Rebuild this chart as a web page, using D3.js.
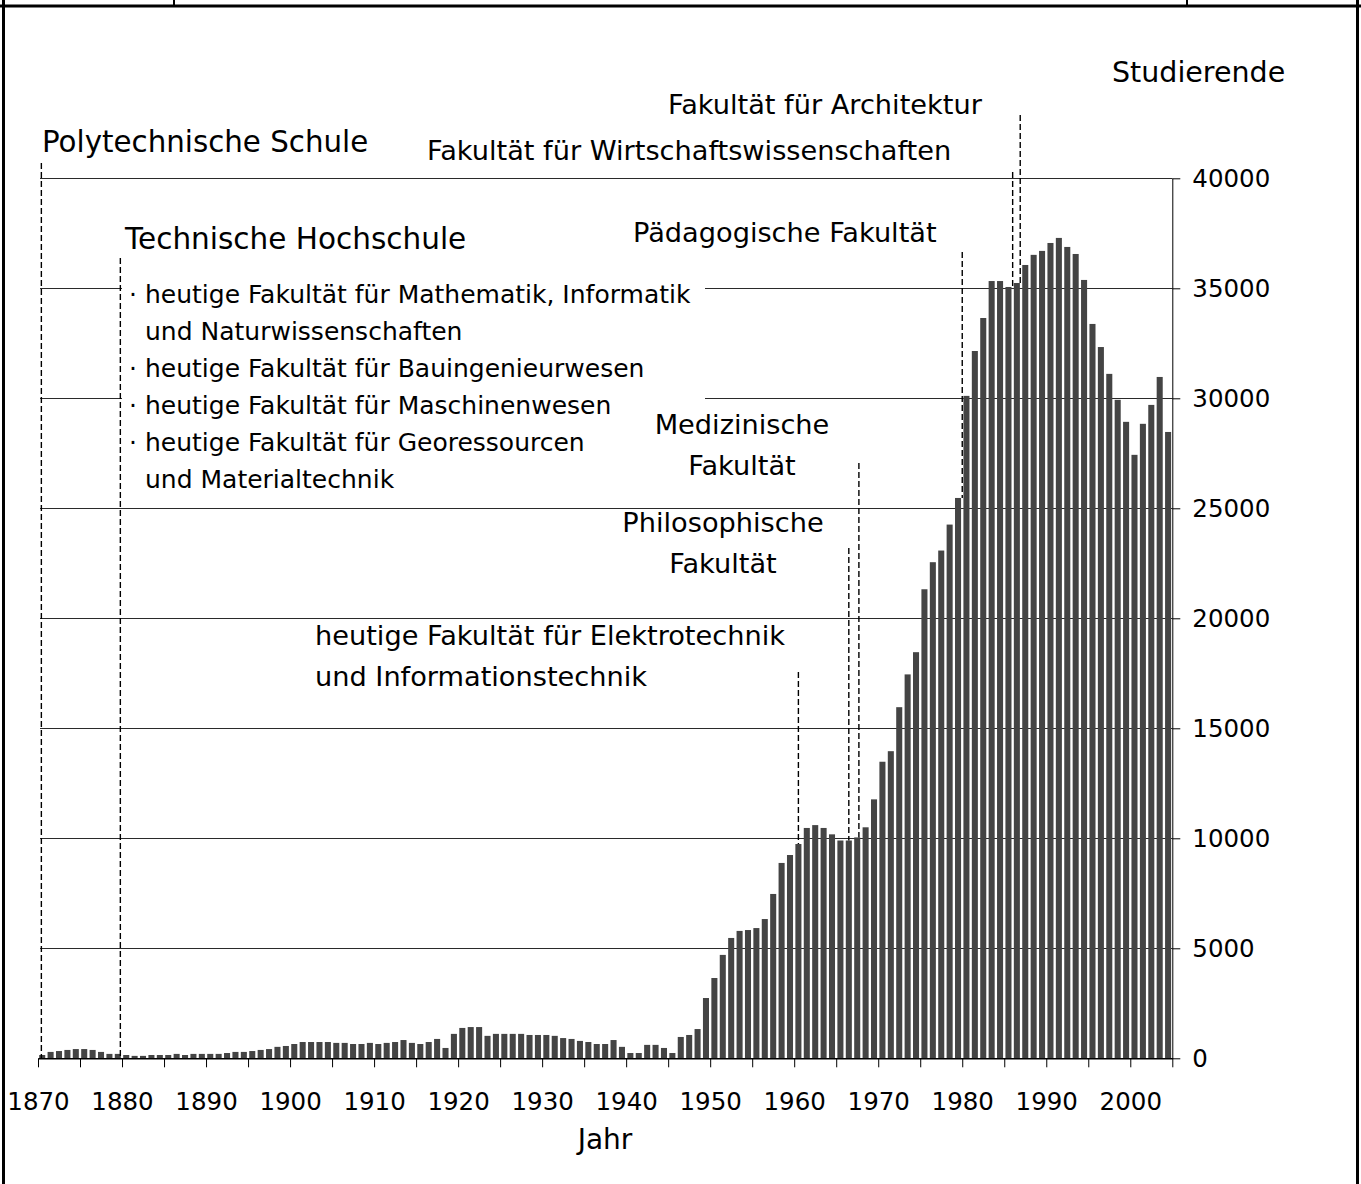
<!DOCTYPE html>
<html>
<head>
<meta charset="utf-8">
<script src="https://cdn.jsdelivr.net/npm/d3@7"></script>
<style>
body { margin: 0; background: #fff; }
svg { display: block; font-family: "DejaVu Sans", sans-serif; }
</style>
</head>
<body>
<svg width="1361" height="1184"></svg>
<script>
// Studierende pro Jahr, 1870 - 2004
var firstYear = 1870;
var students = [
	150, 290, 330, 380, 420, 420, 380, 290, 200, 200,
	150, 110, 110, 150, 150, 150, 200, 150, 200, 200,
	200, 200, 240, 290, 290, 330, 380, 420, 520, 560,
	650, 740, 740, 740, 740, 700, 700, 650, 650, 700,
	650, 700, 740, 830, 700, 650, 740, 880, 470, 1110,
	1380, 1420, 1420, 1020, 1110, 1110, 1110, 1110, 1060, 1060,
	1060, 1020, 920, 880, 790, 740, 650, 650, 830, 520,
	240, 240, 610, 610, 470, 240, 970, 1060, 1330, 2740,
	3650, 4700, 5470, 5790, 5830, 5920, 6330, 7470, 8880, 9240,
	9740, 10470, 10600, 10470, 10180, 9900, 9900, 10040, 10500, 11770,
	13480, 13960, 15960, 17450, 18460, 21320, 22550, 23080, 24260, 25470,
	30110, 32150, 33650, 35330, 35330, 35060, 35240, 36060, 36520, 36700,
	37060, 37290, 36880, 36560, 35380, 33380, 32330, 31110, 29930, 28930,
	27430, 28840, 29700, 30970, 28470
];
var years = d3.range(firstYear, firstYear + students.length);

var yTickValues = [0, 5000, 10000, 15000, 20000, 25000, 30000, 35000, 40000];
var xTickValues = [1870, 1875, 1880, 1885, 1890, 1895, 1900, 1905, 1910, 1915, 1920, 1925, 1930, 1935,
	1940, 1945, 1950, 1955, 1960, 1965, 1970, 1975, 1980, 1985, 1990, 1995, 2000, 2005];
var xTickLabels = [1870, 1880, 1890, 1900, 1910, 1920, 1930, 1940, 1950, 1960, 1970, 1980, 1990, 2000];

// Gruendungen (Zeitpunkt auf der Jahresachse) und Beschriftung
var foundingYears = [1870.4, 1879.8, 1960.5, 1966.5, 1967.7, 1980.0, 1986.0, 1986.9];
var foundingLabels = [
	["Polytechnische Schule"],
	["Technische Hochschule"],
	["heutige Fakultät für Elektrotechnik", "und Informationstechnik"],
	["Philosophische", "Fakultät"],
	["Medizinische", "Fakultät"],
	["Pädagogische Fakultät"],
	["Fakultät für Wirtschaftswissenschaften"],
	["Fakultät für Architektur"]
];
var thFaculties = [
	["heutige Fakultät für Mathematik, Informatik", "und Naturwissenschaften"],
	["heutige Fakultät für Bauingenieurwesen"],
	["heutige Fakultät für Maschinenwesen"],
	["heutige Fakultät für Georessourcen", "und Materialtechnik"]
];

// layout of the labels (x, anchor, first baseline, font size, top of dashed line)
var labelLayout = [
	{ x: 42, anchor: "start", y: 152, size: 29.3, top: 163 },
	{ x: 125, anchor: "start", y: 249, size: 29.5, top: 258 },
	{ x: 315, anchor: "start", y: 645, size: 27.2, top: 672 },
	{ x: 723, anchor: "middle", y: 532, size: 27.2, top: 548 },
	{ x: 742, anchor: "middle", y: 434, size: 27.2, top: 463 },
	{ x: 633, anchor: "start", y: 242, size: 27.2, top: 252 },
	{ x: 427, anchor: "start", y: 160, size: 27.2, top: 172 },
	{ x: 668, anchor: "start", y: 114, size: 27.2, top: 115 }
];

var svg = d3.select("svg"),
	width = +svg.attr("width"),
	height = +svg.attr("height");

var plotLeft = 38, plotRight = 1172.3, plotTop = 178.3, plotBottom = 1058.3;

var x = d3.scaleLinear()
	.domain([1870, 2005])
	.range([plotLeft, plotRight]);

var xBand = d3.scaleBand()
	.domain(years)
	.range([plotLeft, plotRight])
	.paddingInner(0.28)
	.paddingOuter(0.14);

var y = d3.scaleLinear()
	.domain([0, 40000])
	.range([plotBottom, plotTop]);

// frame
var frame = svg.append("g").attr("stroke", "#000");
frame.append("line").attr("x1", 0).attr("x2", width).attr("y1", 6).attr("y2", 6).attr("stroke-width", 3);
frame.append("line").attr("x1", 3.5).attr("x2", 3.5).attr("y1", 0).attr("y2", height).attr("stroke-width", 3);
frame.append("line").attr("x1", 1357.5).attr("x2", 1357.5).attr("y1", 0).attr("y2", height).attr("stroke-width", 3);
frame.append("line").attr("x1", 174).attr("x2", 174).attr("y1", 0).attr("y2", 6).attr("stroke-width", 2);
frame.append("line").attr("x1", 1187).attr("x2", 1187).attr("y1", 0).attr("y2", 6).attr("stroke-width", 2);

// gridlines
svg.append("g")
	.selectAll("line")
	.data(yTickValues.filter(d => d > 0))
	.enter()
	.append("line")
		.attr("x1", plotLeft + 2)
		.attr("x2", plotRight)
		.attr("y1", d => Math.round(y(d)) + 0.5)
		.attr("y2", d => Math.round(y(d)) + 0.5)
		.attr("stroke", "#2a2a2a")
		.attr("stroke-width", 1.2);

// white box behind the faculty list
svg.append("rect")
	.attr("x", 122)
	.attr("y", 279)
	.attr("width", 583)
	.attr("height", 216)
	.attr("fill", "#fff");

// bars
svg.append("g")
	.selectAll("rect")
	.data(students)
	.enter()
	.append("rect")
		.attr("x", (d, i) => xBand(years[i]))
		.attr("width", xBand.bandwidth())
		.attr("y", d => y(d))
		.attr("height", d => y(0) - y(d))
		.attr("fill", "#444");

// x axis
var xAxis = svg.append("g")
	.attr("transform", "translate(0," + plotBottom + ")")
	.call(d3.axisBottom(x)
		.tickValues(xTickValues)
		.tickSize(9)
		.tickSizeOuter(0)
		.tickPadding(25)
		.tickFormat(d => xTickLabels.indexOf(d) >= 0 ? d : ""));
xAxis.select(".domain").attr("stroke-width", 1.5);
xAxis.selectAll("text")
	.attr("font-size", 24.5)
	.attr("font-family", "DejaVu Sans")
	.attr("fill", "#000");

// y axis on the right
var yAxis = svg.append("g")
	.attr("transform", "translate(" + plotRight + ",0)")
	.call(d3.axisRight(y)
		.tickValues(yTickValues)
		.tickSize(8)
		.tickSizeOuter(0)
		.tickPadding(12)
		.tickFormat(d => d));
yAxis.selectAll("text")
	.attr("font-size", 24.5)
	.attr("font-family", "DejaVu Sans")
	.attr("fill", "#000");

// dashed lines for the foundings
var dashG = svg.append("g");
foundingYears.forEach(function(fy, i) {
	var endValue = fy < 1900 ? 0 : Math.min(students[Math.floor(fy - 0.01) - firstYear], students[Math.floor(fy) - firstYear]);
	dashG.append("line")
		.attr("x1", x(fy))
		.attr("x2", x(fy))
		.attr("y1", labelLayout[i].top)
		.attr("y2", y(endValue))
		.attr("stroke", "#000")
		.attr("stroke-width", 1.4)
		.attr("stroke-dasharray", "6,3");
});

// founding labels
foundingLabels.forEach(function(lines, i) {
	var l = labelLayout[i];
	var t = svg.append("text")
		.attr("text-anchor", l.anchor)
		.attr("font-size", l.size)
		.attr("fill", "#000");
	lines.forEach(function(s, j) {
		t.append("tspan")
			.attr("x", l.x)
			.attr("y", l.y + j * 41)
			.text(s);
	});
});

// faculties of the Technische Hochschule
var listY = 303;
thFaculties.forEach(function(lines) {
	svg.append("text")
		.attr("x", 129)
		.attr("y", listY)
		.attr("font-size", 25)
		.text("·");
	lines.forEach(function(s) {
		svg.append("text")
			.attr("x", 145)
			.attr("y", listY)
			.attr("font-size", 25)
			.text(s);
		listY += 37;
	});
});

// axis titles
svg.append("text")
	.attr("x", 1112)
	.attr("y", 82)
	.attr("font-size", 28.5)
	.text("Studierende");

svg.append("text")
	.attr("x", 605)
	.attr("y", 1149)
	.attr("text-anchor", "middle")
	.attr("font-size", 28)
	.text("Jahr");
</script>
</body>
</html>
